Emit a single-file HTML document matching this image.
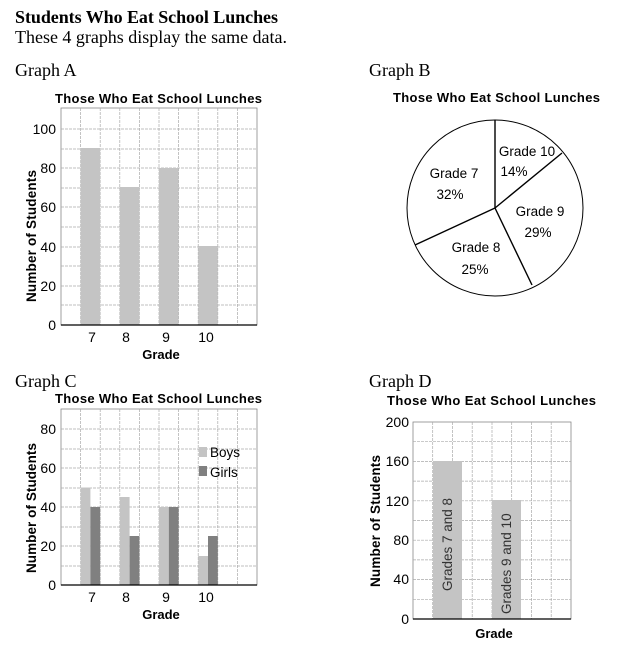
<!DOCTYPE html>
<html><head><style>
html,body{margin:0;padding:0;background:#fff;width:637px;height:648px;overflow:hidden}
svg text{font-family:"Liberation Sans",Arial,sans-serif}
</style></head><body>
<svg width="637" height="648" xmlns="http://www.w3.org/2000/svg">
<g style="font-family:'Liberation Serif',serif">
<text x="15" y="23" font-size="18" font-weight="bold" textLength="263" style="font-family:'Liberation Serif',serif">Students Who Eat School Lunches</text>
<text x="15" y="43" font-size="18" textLength="272" style="font-family:'Liberation Serif',serif">These 4 graphs display the same data.</text>
<text x="15" y="76" font-size="18" style="font-family:'Liberation Serif',serif">Graph A</text>
<text x="369" y="76" font-size="18" style="font-family:'Liberation Serif',serif">Graph B</text>
<text x="15" y="387" font-size="18" style="font-family:'Liberation Serif',serif">Graph C</text>
<text x="369" y="387" font-size="18" style="font-family:'Liberation Serif',serif">Graph D</text>
</g>

<!-- Graph A -->
<g>
<text x="55" y="103" font-size="13" font-weight="bold" textLength="207">Those Who Eat School Lunches</text>
<rect x="61" y="108" width="196" height="217" fill="#fff" stroke="#888" stroke-width="0.8"/>
<g stroke="#aaa" stroke-width="0.7" stroke-dasharray="3,1">
<line x1="61" x2="257" y1="129" y2="129"/><line x1="61" x2="257" y1="149" y2="149"/><line x1="61" x2="257" y1="168" y2="168"/><line x1="61" x2="257" y1="188" y2="188"/><line x1="61" x2="257" y1="207" y2="207"/><line x1="61" x2="257" y1="227" y2="227"/><line x1="61" x2="257" y1="247" y2="247"/><line x1="61" x2="257" y1="266" y2="266"/><line x1="61" x2="257" y1="286" y2="286"/><line x1="61" x2="257" y1="305" y2="305"/>
<line y1="108" y2="325" x1="80.6" x2="80.6"/><line y1="108" y2="325" x1="100.2" x2="100.2"/><line y1="108" y2="325" x1="119.8" x2="119.8"/><line y1="108" y2="325" x1="139.4" x2="139.4"/><line y1="108" y2="325" x1="159" x2="159"/><line y1="108" y2="325" x1="178.6" x2="178.6"/><line y1="108" y2="325" x1="198.2" x2="198.2"/><line y1="108" y2="325" x1="217.8" x2="217.8"/><line y1="108" y2="325" x1="237.4" x2="237.4"/>
</g>
<g fill="#c4c4c4">
<rect x="80.6" y="148" width="19.6" height="177"/>
<rect x="119.8" y="187" width="19.6" height="138"/>
<rect x="159" y="168" width="19.6" height="157"/>
<rect x="198.2" y="246" width="19.6" height="79"/>
</g>
<line x1="61" x2="257" y1="325" y2="325" stroke="#000" stroke-width="1.3"/>
<g font-size="14" text-anchor="end"><text x="56" y="134">100</text><text x="56" y="173">80</text><text x="56" y="212">60</text><text x="56" y="252">40</text><text x="56" y="291">20</text><text x="56" y="330">0</text></g>
<g font-size="14" text-anchor="middle"><text x="92" y="342">7</text><text x="126" y="342">8</text><text x="166" y="342">9</text><text x="206" y="342">10</text></g>
<text x="161" y="359" font-size="13" font-weight="bold" text-anchor="middle">Grade</text>
<text transform="translate(36,236) rotate(-90)" font-size="13.5" font-weight="bold" text-anchor="middle" textLength="132">Number of Students</text>
</g>

<!-- Graph B -->
<g>
<text x="393" y="102" font-size="13" font-weight="bold" textLength="207">Those Who Eat School Lunches</text>
<circle cx="495" cy="208" r="88" fill="#fff" stroke="#000" stroke-width="1"/>
<g stroke="#000" stroke-width="1.4">
<line x1="495" y1="208" x2="495" y2="120"/><line x1="495" y1="208" x2="562" y2="153"/><line x1="495" y1="208" x2="532" y2="285"/><line x1="495" y1="208" x2="415" y2="245"/>
</g>
<g font-size="13.5" text-anchor="middle">
<text x="454" y="178">Grade 7</text><text x="450" y="199">32%</text>
<text x="527" y="156">Grade 10</text><text x="514" y="176">14%</text>
<text x="540" y="216">Grade 9</text><text x="538" y="237">29%</text>
<text x="476" y="252">Grade 8</text><text x="475" y="274">25%</text>
</g>
</g>

<!-- Graph C -->
<g>
<text x="55" y="403" font-size="13" font-weight="bold" textLength="207">Those Who Eat School Lunches</text>
<rect x="61" y="409" width="196" height="176" fill="#fff" stroke="#888" stroke-width="0.8"/>
<g stroke="#aaa" stroke-width="0.7" stroke-dasharray="3,1">
<line x1="61" x2="257" y1="429" y2="429"/><line x1="61" x2="257" y1="449" y2="449"/><line x1="61" x2="257" y1="468" y2="468"/><line x1="61" x2="257" y1="488" y2="488"/><line x1="61" x2="257" y1="507" y2="507"/><line x1="61" x2="257" y1="527" y2="527"/><line x1="61" x2="257" y1="546" y2="546"/><line x1="61" x2="257" y1="566" y2="566"/>
<line y1="409" y2="585" x1="80.6" x2="80.6"/><line y1="409" y2="585" x1="100.2" x2="100.2"/><line y1="409" y2="585" x1="119.8" x2="119.8"/><line y1="409" y2="585" x1="139.4" x2="139.4"/><line y1="409" y2="585" x1="159" x2="159"/><line y1="409" y2="585" x1="178.6" x2="178.6"/><line y1="409" y2="585" x1="198.2" x2="198.2"/><line y1="409" y2="585" x1="217.8" x2="217.8"/><line y1="409" y2="585" x1="237.4" x2="237.4"/>
</g>
<g fill="#c4c4c4">
<rect x="80.6" y="487.5" width="9.8" height="97.5"/>
<rect x="119.8" y="497" width="9.8" height="88"/>
<rect x="159" y="507" width="9.8" height="78"/>
<rect x="198.2" y="556" width="9.8" height="29"/>
<rect x="199" y="447" width="8" height="10"/>
</g>
<g fill="#808080">
<rect x="90.4" y="507" width="9.8" height="78"/>
<rect x="129.6" y="536" width="9.8" height="49"/>
<rect x="168.8" y="507" width="9.8" height="78"/>
<rect x="208" y="536" width="9.8" height="49"/>
<rect x="199" y="466" width="8" height="10"/>
</g>
<g font-size="13.5"><text x="210" y="457">Boys</text><text x="210" y="477">Girls</text></g>
<line x1="61" x2="257" y1="585" y2="585" stroke="#000" stroke-width="1.3"/>
<g font-size="14" text-anchor="end"><text x="56" y="434">80</text><text x="56" y="473">60</text><text x="56" y="512">40</text><text x="56" y="551">20</text><text x="56" y="590">0</text></g>
<g font-size="14" text-anchor="middle"><text x="92" y="602">7</text><text x="126" y="602">8</text><text x="166" y="602">9</text><text x="206" y="602">10</text></g>
<text x="161" y="619" font-size="13" font-weight="bold" text-anchor="middle">Grade</text>
<text transform="translate(36,508) rotate(-90)" font-size="13.5" font-weight="bold" text-anchor="middle" textLength="130">Number of Students</text>
</g>

<!-- Graph D -->
<g>
<text x="387" y="405" font-size="13" font-weight="bold" textLength="209">Those Who Eat School Lunches</text>
<rect x="413" y="422" width="158" height="197" fill="#fff" stroke="#888" stroke-width="0.8"/>
<g stroke="#aaa" stroke-width="0.7" stroke-dasharray="3,1">
<line x1="413" x2="571" y1="441.7" y2="441.7"/><line x1="413" x2="571" y1="461.4" y2="461.4"/><line x1="413" x2="571" y1="481.1" y2="481.1"/><line x1="413" x2="571" y1="500.8" y2="500.8"/><line x1="413" x2="571" y1="520.5" y2="520.5"/><line x1="413" x2="571" y1="540.2" y2="540.2"/><line x1="413" x2="571" y1="559.9" y2="559.9"/><line x1="413" x2="571" y1="579.6" y2="579.6"/><line x1="413" x2="571" y1="599.3" y2="599.3"/>
<line y1="422" y2="619" x1="432.7" x2="432.7"/><line y1="422" y2="619" x1="452.5" x2="452.5"/><line y1="422" y2="619" x1="472.2" x2="472.2"/><line y1="422" y2="619" x1="492" x2="492"/><line y1="422" y2="619" x1="511.7" x2="511.7"/><line y1="422" y2="619" x1="531.5" x2="531.5"/><line y1="422" y2="619" x1="551.2" x2="551.2"/>
</g>
<g fill="#c4c4c4">
<rect x="433" y="461" width="29" height="158"/>
<rect x="492" y="500" width="29" height="119"/>
</g>
<g font-size="13.5" fill="#333">
<text transform="translate(452,591) rotate(-90)">Grades 7 and 8</text>
<text transform="translate(511,614) rotate(-90)">Grades 9 and 10</text>
</g>
<line x1="413" x2="571" y1="619" y2="619" stroke="#000" stroke-width="1.3"/>
<g font-size="14" text-anchor="end"><text x="409" y="427">200</text><text x="409" y="466">160</text><text x="409" y="506">120</text><text x="409" y="545">80</text><text x="409" y="584">40</text><text x="409" y="624">0</text></g>
<text x="494" y="638" font-size="13" font-weight="bold" text-anchor="middle">Grade</text>
<text transform="translate(380,521) rotate(-90)" font-size="13.5" font-weight="bold" text-anchor="middle" textLength="132">Number of Students</text>
</g>
</svg>
</body></html>
